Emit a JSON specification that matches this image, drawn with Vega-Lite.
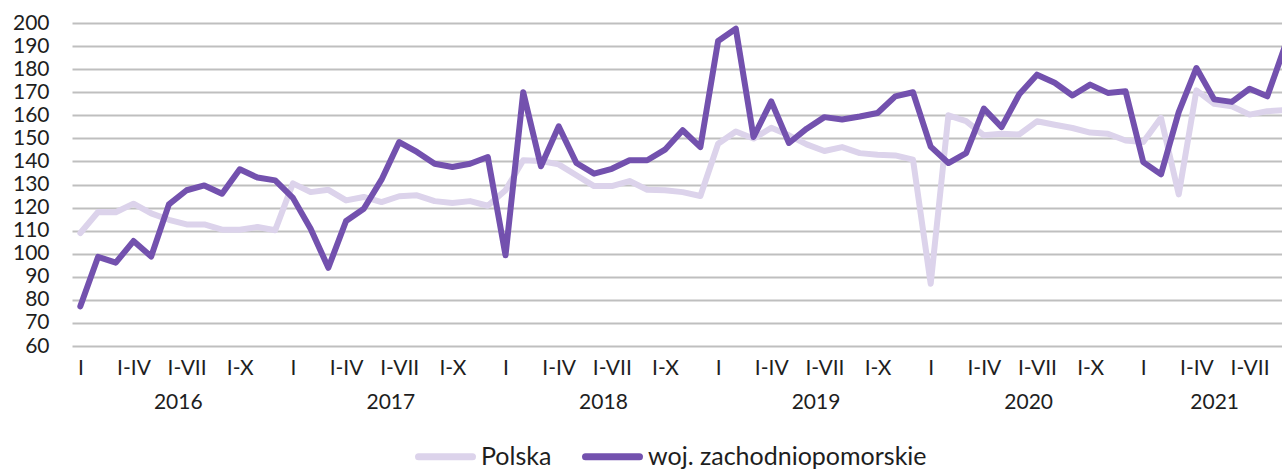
{
  "$schema": "https://vega.github.io/schema/vega-lite/v6.json",
  "width": 1210,
  "height": 323,
  "autosize": {"type": "none"},
  "padding": {"left": 72, "top": 23, "right": 0, "bottom": 124},
  "config": {
    "view": {"stroke": null},
    "font": "Lato",
    "axis": {"labelFont": "Lato", "labelColor": "#1e1e1e", "labelFontSize": 21},
    "legend": {"labelFont": "Lato", "labelColor": "#1e1e1e"}
  },
  "datasets": {
    "d": [
      {"i":0,"series":"Polska","value":109.0},{"i":1,"series":"Polska","value":118.1},{"i":2,"series":"Polska","value":118.0},{"i":3,"series":"Polska","value":121.7},{"i":4,"series":"Polska","value":117.5},{"i":5,"series":"Polska","value":114.7},{"i":6,"series":"Polska","value":112.7},{"i":7,"series":"Polska","value":112.7},{"i":8,"series":"Polska","value":110.4},{"i":9,"series":"Polska","value":110.4},{"i":10,"series":"Polska","value":111.6},{"i":11,"series":"Polska","value":110.2},
      {"i":12,"series":"Polska","value":130.5},{"i":13,"series":"Polska","value":126.7},{"i":14,"series":"Polska","value":127.7},{"i":15,"series":"Polska","value":123.1},{"i":16,"series":"Polska","value":124.6},{"i":17,"series":"Polska","value":122.4},{"i":18,"series":"Polska","value":124.9},{"i":19,"series":"Polska","value":125.3},{"i":20,"series":"Polska","value":122.8},{"i":21,"series":"Polska","value":122.0},{"i":22,"series":"Polska","value":122.8},{"i":23,"series":"Polska","value":120.8},
      {"i":24,"series":"Polska","value":127.5},{"i":25,"series":"Polska","value":140.5},{"i":26,"series":"Polska","value":140.2},{"i":27,"series":"Polska","value":138.7},{"i":28,"series":"Polska","value":134.0},{"i":29,"series":"Polska","value":129.3},{"i":30,"series":"Polska","value":129.3},{"i":31,"series":"Polska","value":131.5},{"i":32,"series":"Polska","value":127.7},{"i":33,"series":"Polska","value":127.5},{"i":34,"series":"Polska","value":126.7},{"i":35,"series":"Polska","value":125.0},
      {"i":36,"series":"Polska","value":147.7},{"i":37,"series":"Polska","value":153.0},{"i":38,"series":"Polska","value":149.9},{"i":39,"series":"Polska","value":154.6},{"i":40,"series":"Polska","value":151.3},{"i":41,"series":"Polska","value":147.4},{"i":42,"series":"Polska","value":144.5},{"i":43,"series":"Polska","value":146.2},{"i":44,"series":"Polska","value":143.6},{"i":45,"series":"Polska","value":142.9},{"i":46,"series":"Polska","value":142.6},{"i":47,"series":"Polska","value":140.8},
      {"i":48,"series":"Polska","value":87.0},{"i":49,"series":"Polska","value":160.0},{"i":50,"series":"Polska","value":157.5},{"i":51,"series":"Polska","value":151.3},{"i":52,"series":"Polska","value":152.0},{"i":53,"series":"Polska","value":151.7},{"i":54,"series":"Polska","value":157.4},{"i":55,"series":"Polska","value":155.9},{"i":56,"series":"Polska","value":154.5},{"i":57,"series":"Polska","value":152.5},{"i":58,"series":"Polska","value":152.0},{"i":59,"series":"Polska","value":149.1},
      {"i":60,"series":"Polska","value":148.4},{"i":61,"series":"Polska","value":158.9},{"i":62,"series":"Polska","value":125.7},{"i":63,"series":"Polska","value":170.8},{"i":64,"series":"Polska","value":165.0},{"i":65,"series":"Polska","value":163.9},{"i":66,"series":"Polska","value":160.3},{"i":67,"series":"Polska","value":161.8},{"i":68,"series":"Polska","value":162.2},
      {"i":0,"series":"woj. zachodniopomorskie","value":77.2},{"i":1,"series":"woj. zachodniopomorskie","value":98.6},{"i":2,"series":"woj. zachodniopomorskie","value":96.1},{"i":3,"series":"woj. zachodniopomorskie","value":105.5},{"i":4,"series":"woj. zachodniopomorskie","value":98.8},{"i":5,"series":"woj. zachodniopomorskie","value":121.4},{"i":6,"series":"woj. zachodniopomorskie","value":127.5},{"i":7,"series":"woj. zachodniopomorskie","value":129.6},{"i":8,"series":"woj. zachodniopomorskie","value":126.0},{"i":9,"series":"woj. zachodniopomorskie","value":136.6},{"i":10,"series":"woj. zachodniopomorskie","value":133.0},{"i":11,"series":"woj. zachodniopomorskie","value":131.8},
      {"i":12,"series":"woj. zachodniopomorskie","value":124.2},{"i":13,"series":"woj. zachodniopomorskie","value":110.8},{"i":14,"series":"woj. zachodniopomorskie","value":93.9},{"i":15,"series":"woj. zachodniopomorskie","value":114.2},{"i":16,"series":"woj. zachodniopomorskie","value":119.5},{"i":17,"series":"woj. zachodniopomorskie","value":132.1},{"i":18,"series":"woj. zachodniopomorskie","value":148.4},{"i":19,"series":"woj. zachodniopomorskie","value":144.1},{"i":20,"series":"woj. zachodniopomorskie","value":139.0},{"i":21,"series":"woj. zachodniopomorskie","value":137.6},{"i":22,"series":"woj. zachodniopomorskie","value":139.0},{"i":23,"series":"woj. zachodniopomorskie","value":141.9},
      {"i":24,"series":"woj. zachodniopomorskie","value":99.3},{"i":25,"series":"woj. zachodniopomorskie","value":170.0},{"i":26,"series":"woj. zachodniopomorskie","value":137.9},{"i":27,"series":"woj. zachodniopomorskie","value":155.2},{"i":28,"series":"woj. zachodniopomorskie","value":139.3},{"i":29,"series":"woj. zachodniopomorskie","value":134.7},{"i":30,"series":"woj. zachodniopomorskie","value":136.8},{"i":31,"series":"woj. zachodniopomorskie","value":140.5},{"i":32,"series":"woj. zachodniopomorskie","value":140.5},{"i":33,"series":"woj. zachodniopomorskie","value":145.1},{"i":34,"series":"woj. zachodniopomorskie","value":153.5},{"i":35,"series":"woj. zachodniopomorskie","value":146.2},
      {"i":36,"series":"woj. zachodniopomorskie","value":192.2},{"i":37,"series":"woj. zachodniopomorskie","value":197.5},{"i":38,"series":"woj. zachodniopomorskie","value":150.6},{"i":39,"series":"woj. zachodniopomorskie","value":166.0},{"i":40,"series":"woj. zachodniopomorskie","value":148.0},{"i":41,"series":"woj. zachodniopomorskie","value":154.2},{"i":42,"series":"woj. zachodniopomorskie","value":159.2},{"i":43,"series":"woj. zachodniopomorskie","value":158.2},{"i":44,"series":"woj. zachodniopomorskie","value":159.5},{"i":45,"series":"woj. zachodniopomorskie","value":161.0},{"i":46,"series":"woj. zachodniopomorskie","value":168.2},{"i":47,"series":"woj. zachodniopomorskie","value":170.0},
      {"i":48,"series":"woj. zachodniopomorskie","value":146.4},{"i":49,"series":"woj. zachodniopomorskie","value":139.3},{"i":50,"series":"woj. zachodniopomorskie","value":143.6},{"i":51,"series":"woj. zachodniopomorskie","value":162.9},{"i":52,"series":"woj. zachodniopomorskie","value":154.9},{"i":53,"series":"woj. zachodniopomorskie","value":169.1},{"i":54,"series":"woj. zachodniopomorskie","value":177.6},{"i":55,"series":"woj. zachodniopomorskie","value":174.1},{"i":56,"series":"woj. zachodniopomorskie","value":168.6},{"i":57,"series":"woj. zachodniopomorskie","value":173.3},{"i":58,"series":"woj. zachodniopomorskie","value":169.7},{"i":59,"series":"woj. zachodniopomorskie","value":170.4},
      {"i":60,"series":"woj. zachodniopomorskie","value":139.7},{"i":61,"series":"woj. zachodniopomorskie","value":134.4},{"i":62,"series":"woj. zachodniopomorskie","value":161.4},{"i":63,"series":"woj. zachodniopomorskie","value":180.5},{"i":64,"series":"woj. zachodniopomorskie","value":166.9},{"i":65,"series":"woj. zachodniopomorskie","value":165.8},{"i":66,"series":"woj. zachodniopomorskie","value":171.5},{"i":67,"series":"woj. zachodniopomorskie","value":168.2},{"i":68,"series":"woj. zachodniopomorskie","value":190.0}
    ]
  },
  "data": {"name": "d"},
  "layer": [
    {
      "mark": {"type": "line", "strokeWidth": 6, "strokeCap": "round", "strokeJoin": "round", "clip": true},
      "encoding": {
        "x": {
          "field": "i", "type": "quantitative",
          "scale": {"domain": [-0.47, 67.83], "nice": false, "zero": false},
          "axis": {
            "orient": "bottom", "title": null, "grid": false, "domain": false, "ticks": false, "tickSize": 0,
            "values": [0,3,6,9,12,15,18,21,24,27,30,33,36,39,42,45,48,51,54,57,60,63,66],
            "labelExpr": "['I','I-IV','I-VII','I-X'][(datum.value % 12) / 3]",
            "labelPadding": 11, "labelFlush": false, "labelOverlap": false, "labelBound": false
          }
        },
        "y": {
          "field": "value", "type": "quantitative",
          "scale": {"domain": [60, 200], "nice": false, "zero": false},
          "axis": {
            "title": null, "grid": true, "gridColor": "#bfbfbf", "gridWidth": 2, "domain": false, "ticks": false, "tickSize": 0,
            "values": [60,70,80,90,100,110,120,130,140,150,160,170,180,190,200],
            "labelPadding": 23, "labelOverlap": false, "labelFlush": false
          }
        },
        "color": {
          "field": "series", "type": "nominal",
          "scale": {"domain": ["Polska", "woj. zachodniopomorskie"], "range": ["#DCD3EB", "#7351AE"]},
          "legend": {
            "title": null, "orient": "none", "direction": "horizontal", "legendX": 343, "legendY": 403,
            "symbolType": "stroke", "symbolSize": 2916, "symbolStrokeWidth": 7,
            "labelFontSize": 25, "labelOffset": 5, "labelLimit": 500, "columnPadding": 19, "padding": 0,
            "encode": {"symbols": {"update": {"strokeCap": {"value": "round"}}}}
          }
        }
      }
    },
    {
      "mark": {"type": "point", "opacity": 0, "clip": true},
      "encoding": {
        "x": {
          "field": "i", "type": "quantitative",
          "scale": {"domain": [-0.47, 67.83], "nice": false, "zero": false},
          "axis": {
            "orient": "bottom", "title": null, "grid": false, "domain": false, "ticks": false, "tickSize": 0,
            "values": [5.5, 17.5, 29.5, 41.5, 53.5, 64],
            "labelExpr": "'' + (2016 + floor(datum.value / 12))",
            "labelPadding": 45, "labelFlush": false, "labelOverlap": false, "labelBound": false
          }
        }
      }
    }
  ],
  "resolve": {"scale": {"x": "independent"}, "axis": {"x": "independent"}}
}
